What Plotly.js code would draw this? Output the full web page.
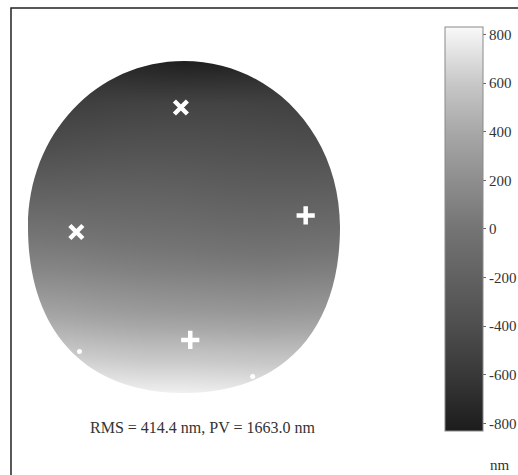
<!DOCTYPE html>
<html>
<head>
<meta charset="utf-8">
<script src="https://cdn.plot.ly/plotly-3.0.1.min.js"></script>
<style>html,body{margin:0;padding:0;background:#fff;}#chart{width:518px;height:475px;}</style>
</head>
<body>
<div id="chart"></div>
<script>
// Normalised pupil coordinates of the sample grid
const gridX = [-1, -0.75, -0.5, -0.25, 0, 0.25, 0.5, 0.75, 1];
const gridY = [-1, -0.75, -0.5, -0.25, 0, 0.25, 0.5, 0.75, 1];
// Surface height (nm), rows from bottom (y=-1) to top (y=1)
const heightRow_m100 = [820, 815, 800, 790, 790, 780, 770, 770, 770];
const heightRow_m075 = [620, 600, 580, 560, 560, 550, 540, 540, 550];
const heightRow_m050 = [360, 340, 310, 290, 280, 270, 260, 270, 280];
const heightRow_m025 = [140, 130, 110, 90, 80, 70, 60, 70, 80];
const heightRow_000  = [-30, -40, -60, -70, -80, -100, -110, -100, -90];
const heightRow_p025 = [-230, -220, -210, -210, -220, -240, -250, -250, -240];
const heightRow_p050 = [-420, -400, -380, -370, -370, -380, -390, -400, -400];
const heightRow_p075 = [-560, -540, -520, -510, -500, -500, -510, -520, -530];
const heightRow_p100 = [-700, -720, -750, -780, -810, -800, -770, -740, -720];
// Fiducial marks (data holes)
const crossX = [-0.02, -0.69, 0.78, 0.04];
const crossY = [0.72, -0.03, 0.07, -0.68];
const crossSymbol = ['x-thin', 'x-thin', 'cross-thin', 'cross-thin'];
const dotX = [-0.67, 0.44];
const dotY = [-0.75, -0.90];
// Colour bar
const zMin = -831.5, zMax = 831.5;
const cbTickVals = [-800, -600, -400, -200, 0, 200, 400, 600, 800];
const cbTickText = ['-800', '-600', '-400', '-200', '0', '200', '400', '600', '800'];
const statsText = 'RMS = 414.4 nm, PV = 1663.0 nm';
const unitText = 'nm';

const z = [heightRow_m100, heightRow_m075, heightRow_m050, heightRow_m025, heightRow_000,
           heightRow_p025, heightRow_p050, heightRow_p075, heightRow_p100];

const serif = 'Liberation Serif, Times New Roman, serif';

const heat = {
  type: 'heatmap', x: gridX, y: gridY, z: z, zsmooth: 'best',
  zmin: zMin, zmax: zMax,
  colorscale: [[0, '#1c1c1c'], [0.139, '#383838'], [0.259, '#4e4e4e'], [0.5, '#747474'],
               [0.741, '#a8a8a8'], [0.861, '#c8c8c8'], [1, '#f9f9f9']],
  hoverinfo: 'skip',
  colorbar: {
    x: 1.3365, xanchor: 'left', xref: 'paper', xpad: 0,
    y: 0.494, yanchor: 'middle', yref: 'paper', ypad: 0,
    thickness: 38, thicknessmode: 'pixels', len: 404, lenmode: 'pixels',
    outlinewidth: 1, outlinecolor: '#8a8a8a',
    tickmode: 'array', tickvals: cbTickVals, ticktext: cbTickText,
    ticks: 'outside', ticklen: 3, tickwidth: 1, tickcolor: '#666',
    tickfont: {family: serif, size: 15, color: '#333'}
  }
};
const crosses = {
  type: 'scatter', mode: 'markers', x: crossX, y: crossY, hoverinfo: 'skip', showlegend: false,
  marker: {symbol: crossSymbol, size: 13, color: '#ffffff', line: {width: 4.5, color: '#ffffff'}}
};
const dots = {
  type: 'scatter', mode: 'markers', x: dotX, y: dotY, hoverinfo: 'skip', showlegend: false,
  marker: {symbol: 'circle', size: 5, color: '#ffffff', line: {width: 0}}
};

const kt = 0.56, kb = 0.63;
const maskPath = 'M -3,-3 H 3 V 3 H -3 Z ' +
  `M 1,0 C 1,${kt} ${kt},1 0,1 C ${-kt},1 -1,${kt} -1,0 C -1,${-kb} ${-kb},-1 0,-1 C ${kb},-1 1,${-kb} 1,0 Z`;

const layout = {
  width: 518, height: 475,
  margin: {l: 28, r: 178, t: 61, b: 82, pad: 0, autoexpand: false},
  paper_bgcolor: '#ffffff', plot_bgcolor: '#ffffff',
  showlegend: false,
  xaxis: {range: [-1, 1], visible: false, fixedrange: true},
  yaxis: {range: [-1, 1], visible: false, fixedrange: true},
  shapes: [
    {type: 'path', xref: 'x', yref: 'y', path: maskPath, fillcolor: '#ffffff', fillrule: 'evenodd',
     line: {width: 0}, layer: 'above'},
    {type: 'rect', xref: 'paper', yref: 'paper', x0: -0.0545, x1: 2, y0: -1, y1: 1.1596,
     line: {color: '#222', width: 1.5}, fillcolor: 'rgba(0,0,0,0)'}
  ],
  annotations: [
    {text: statsText, xref: 'paper', yref: 'paper', x: 0.558, y: -0.105, xanchor: 'center', yanchor: 'middle',
     showarrow: false, font: {family: serif, size: 16, color: '#333'}},
    {text: unitText, xref: 'paper', yref: 'paper', x: 1.55, y: -0.217, xanchor: 'right', yanchor: 'middle',
     showarrow: false, font: {family: serif, size: 15, color: '#333'}}
  ]
};

Plotly.newPlot('chart', [heat, crosses, dots], layout, {staticPlot: true, displayModeBar: false});
</script>
</body>
</html>
